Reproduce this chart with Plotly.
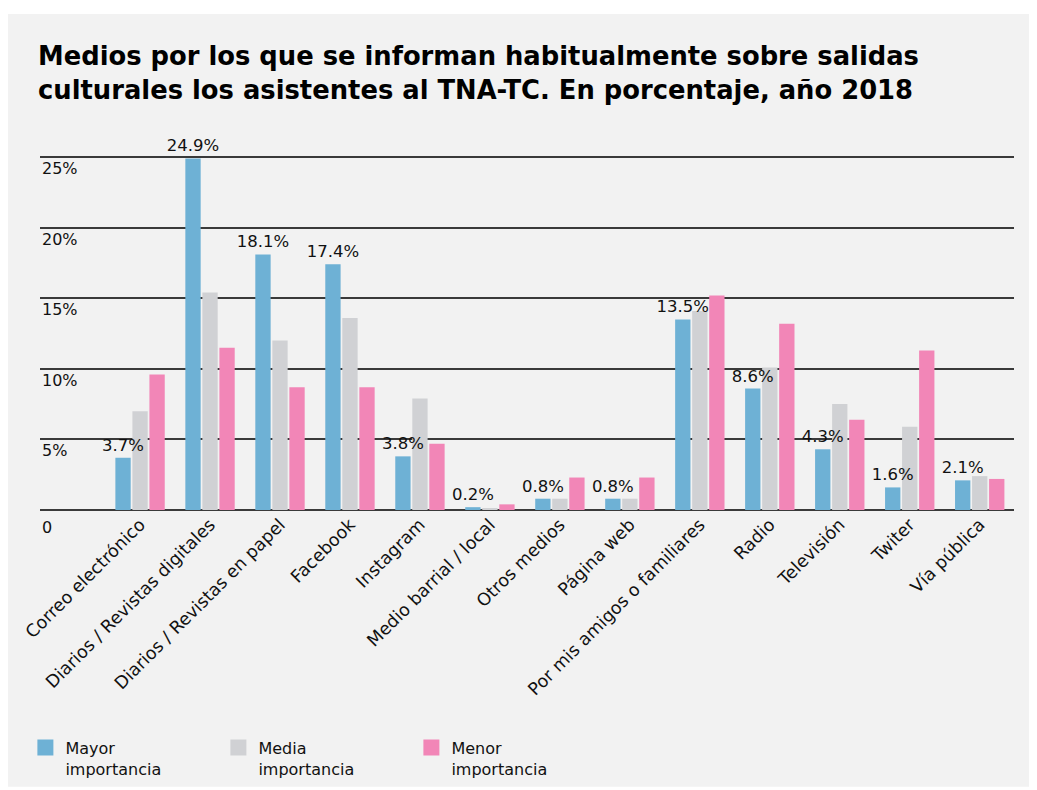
import plotly.graph_objects as go

# Data (percent of attendees, 2018)
categorias = [
    "Correo electrónico", "Diarios / Revistas digitales", "Diarios / Revistas en papel",
    "Facebook", "Instagram", "Medio barrial / local", "Otros medios", "Página web",
    "Por mis amigos o familiares", "Radio", "Televisión", "Twiter", "Vía pública",
]
mayor = [3.7, 24.9, 18.1, 17.4, 3.8, 0.2, 0.8, 0.8, 13.5, 8.6, 4.3, 1.6, 2.1]
media = [7.0, 15.4, 12.0, 13.6, 7.9, 0.1, 0.8, 0.8, 14.1, 10.1, 7.5, 5.9, 2.4]
menor = [9.6, 11.5, 8.7, 8.7, 4.7, 0.4, 2.3, 2.3, 15.2, 13.2, 6.4, 11.3, 2.2]

tick_vals = [0, 5, 10, 15, 20, 25]
tick_text = ["0", "5%", "10%", "15%", "20%", "25%"]

series_names = ["Mayor<br>importancia", "Media<br>importancia", "Menor<br>importancia"]
colors = ["#6eb1d5", "#d0d1d4", "#f286b7"]

FONT = "DejaVu Sans"
BG = "#f2f2f2"

fig = go.Figure()

for i, (vals, name, col) in enumerate(zip([mayor, media, menor], series_names, colors)):
    fig.add_trace(go.Bar(
        x=categorias, y=vals, name=name, marker_color=col, marker_line_width=0,
        offsetgroup=str(i), showlegend=False, hoverinfo="x+y",
    ))

# labels for the "Mayor" bars, drawn last so they sit on top of neighbouring bars
fig.add_trace(go.Bar(
    x=categorias, y=mayor, offsetgroup="0", showlegend=False, hoverinfo="skip",
    marker_color="rgba(0,0,0,0)", marker_line_width=0,
    text=[f"{v:.1f}%" for v in mayor], textposition="outside",
    textfont=dict(family=FONT, size=16.5, color="#111"),
    constraintext="none", cliponaxis=False,
))

# legend entries with larger square swatches
for name, col in zip(series_names, colors):
    fig.add_trace(go.Scatter(
        x=[None], y=[None], mode="markers", name=name,
        marker=dict(symbol="square", size=20, color=col),
    ))

# y tick labels sit just under each grid line
for v, t in zip(tick_vals, tick_text):
    fig.add_annotation(
        x=0, xref="paper", xanchor="left", y=v, yref="y", yanchor="top",
        yshift=0 if v else -6, text=t, showarrow=False,
        font=dict(family=FONT, size=16, color="#111"),
    )

# white frame around the grey card
fig.add_shape(type="rect", xref="paper", yref="paper", layer="below",
              x0=-0.033, x1=1.04, y0=-0.769, y1=1.378,
              fillcolor=BG, line_width=0)

fig.update_layout(
    width=1037, height=790,
    paper_bgcolor="white", plot_bgcolor=BG,
    margin=dict(l=32, r=31, t=142, b=288, autoexpand=False),
    barmode="group", bargap=0.27, bargroupgap=0.1,
    title=dict(
        text="Medios por los que se informan habitualmente sobre salidas<br>"
             "culturales los asistentes al TNA-TC. En porcentaje, año 2018",
        x=30 / 1037, xanchor="left", xref="container",
        y=1 - 57 / 790, yanchor="top", yref="container",
        font=dict(family=FONT, size=25.8, color="#000", weight="bold"),
    ),
    font=dict(family=FONT, size=16, color="#111"),
    xaxis=dict(
        range=[-1.43, 12.49], tickangle=-45, showgrid=False, showline=False,
        ticks="", automargin=False,
        tickfont=dict(family=FONT, size=17.5, color="#111"),
    ),
    yaxis=dict(
        range=[0, 25.5], tickvals=tick_vals, showticklabels=False,
        automargin=False,
        gridcolor="#3a3a3a", gridwidth=1.5, zeroline=True,
        zerolinecolor="#3a3a3a", zerolinewidth=1.5,
    ),
    legend=dict(
        orientation="h", x=-0.015, xanchor="left", y=-0.613, yanchor="top",
        entrywidth=148, valign="top", bgcolor="rgba(0,0,0,0)",
        font=dict(family=FONT, size=16, color="#111"),
    ),
)

fig.write_html("out.html")
